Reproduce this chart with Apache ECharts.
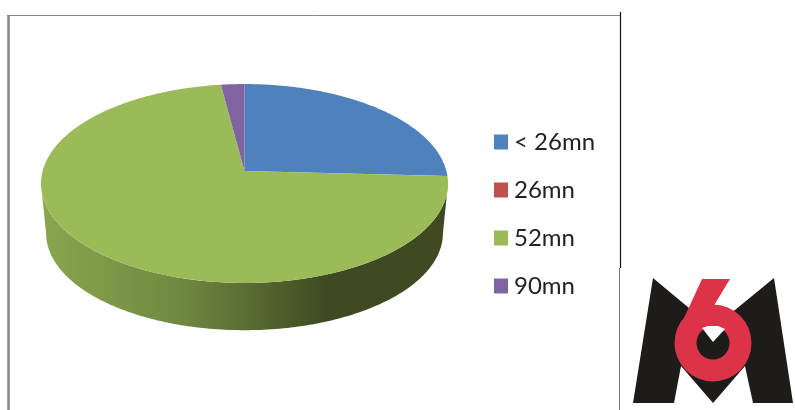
<!DOCTYPE html>
<html>
<head>
<meta charset="utf-8">
<style>
  html, body { margin: 0; padding: 0; background: #fff; }
  #main { width: 795px; height: 410px; }
</style>
<script src="https://cdn.jsdelivr.net/npm/echarts@6/dist/echarts.min.js"></script>
</head>
<body>
<div id="main"></div>
<script>
const categories = ['< 26mn', '26mn', '52mn', '90mn'];
const shares = [25.8, 0, 72.1, 2.1];
const colors = ['#4f81bd', '#c0504d', '#9bbb59', '#8064a2'];

// pie projection, with perspective: the far half looks shorter than the near half
const apexX = 244.5;
const apexY = 171;
const radiusX = 201.9;
const radiusY = 97.9;
const persp = 0.1258;
const wallDepth = 50;
const wallScale = 0.975;

const total = shares.reduce((a, b) => a + b, 0);
// angle where the rim is widest, the wall starts there
const wallStart = Math.acos(-persp) * 180 / Math.PI;

function rimPoint(deg, scale, drop) {
  const t = deg * Math.PI / 180;
  const s = scale / (1 + persp * Math.cos(t));
  return [apexX + radiusX * Math.sin(t) * s, apexY + drop - radiusY * Math.cos(t) * s];
}

function arc(from, to, scale, drop) {
  const pts = [];
  const n = Math.max(1, Math.ceil(Math.abs(to - from)));
  for (let i = 0; i <= n; i++) {
    pts.push(rimPoint(from + (to - from) * i / n, scale, drop));
  }
  return pts;
}

function renderSlice(params, api) {
  const idx = params.seriesIndex;
  const before = shares.slice(0, idx).reduce((a, b) => a + b, 0);
  const start = before / total * 360;
  const end = start + api.value(0) / total * 360;
  if (end <= start) {
    return { type: 'group', children: [] };
  }
  const children = [];
  // side wall, only the front of the pie shows it
  const wallFrom = Math.max(start, wallStart);
  const wallTo = Math.min(end, 360 - wallStart);
  if (wallTo > wallFrom) {
    const wall = arc(wallFrom, wallTo, 1, 0).concat(arc(wallTo, wallFrom, wallScale, wallDepth));
    children.push({
      type: 'polygon',
      shape: { points: wall },
      style: {
        fill: new echarts.graphic.LinearGradient(0, 0, 1, 0, [
          { offset: 0, color: '#89a64f' },
          { offset: 0.35, color: '#6f8840' },
          { offset: 0.7, color: '#3f4a22' },
          { offset: 1, color: '#3f4a22' },
        ]),
      },
    });
  }
  children.push({
    type: 'polygon',
    shape: { points: [[apexX, apexY]].concat(arc(start, end, 1, 0)) },
    style: { fill: colors[idx] },
  });
  return { type: 'group', children };
}

// frame lines and the M6 logo
function frameLine(x1, y1, x2, y2, color, width) {
  return { type: 'line', shape: { x1, y1, x2, y2 }, style: { stroke: color, lineWidth: width }, silent: true };
}

function logoPoly(points, fill, z) {
  return { type: 'polygon', shape: { points }, style: { fill }, silent: true, z };
}

const logo = [
  logoPoly([[653, 278], [713, 328], [774, 278], [793, 403], [753, 403], [745, 366], [713, 403], [681, 366], [674, 403], [633, 403]], '#1e1c1b', 5),
  { type: 'circle', shape: { cx: 713, cy: 343, r: 38.5 }, style: { fill: '#dc3349' }, silent: true, z: 6 },
  logoPoly([[702, 279], [730, 279], [710, 312], [684, 318]], '#dc3349', 6),
  { type: 'circle', shape: { cx: 713, cy: 343, r: 16.5 }, style: { fill: '#1e1c1b' }, silent: true, z: 7 },
  logoPoly([[702, 328], [708, 326], [718, 326], [725, 329], [713, 342]], '#fff', 8),
];

const chart = echarts.init(document.getElementById('main'));
chart.setOption({
  animation: false,
  backgroundColor: '#fff',
  legend: {
    orient: 'vertical',
    left: 494,
    top: 127,
    padding: 0,
    icon: 'rect',
    itemWidth: 14,
    itemHeight: 15,
    itemGap: 18,
    selectedMode: false,
    textStyle: { fontFamily: 'Lato', fontSize: 24, color: '#222', lineHeight: 30, padding: [0, 0, 0, 1] },
    data: categories,
  },
  series: categories.map((name, i) => ({
    name,
    type: 'custom',
    coordinateSystem: 'none',
    itemStyle: { color: colors[i] },
    renderItem: renderSlice,
    silent: true,
    data: [[shares[i]]],
  })),
  graphic: [
    frameLine(8.5, 15, 8.5, 410, '#868686', 2.5),
    frameLine(7, 15.5, 620, 15.5, '#868686', 1),
    frameLine(620.5, 12, 620.5, 268, '#111', 1.2),
    frameLine(619.5, 268, 619.5, 410, '#777', 1),
  ].concat(logo),
});
</script>
</body>
</html>
